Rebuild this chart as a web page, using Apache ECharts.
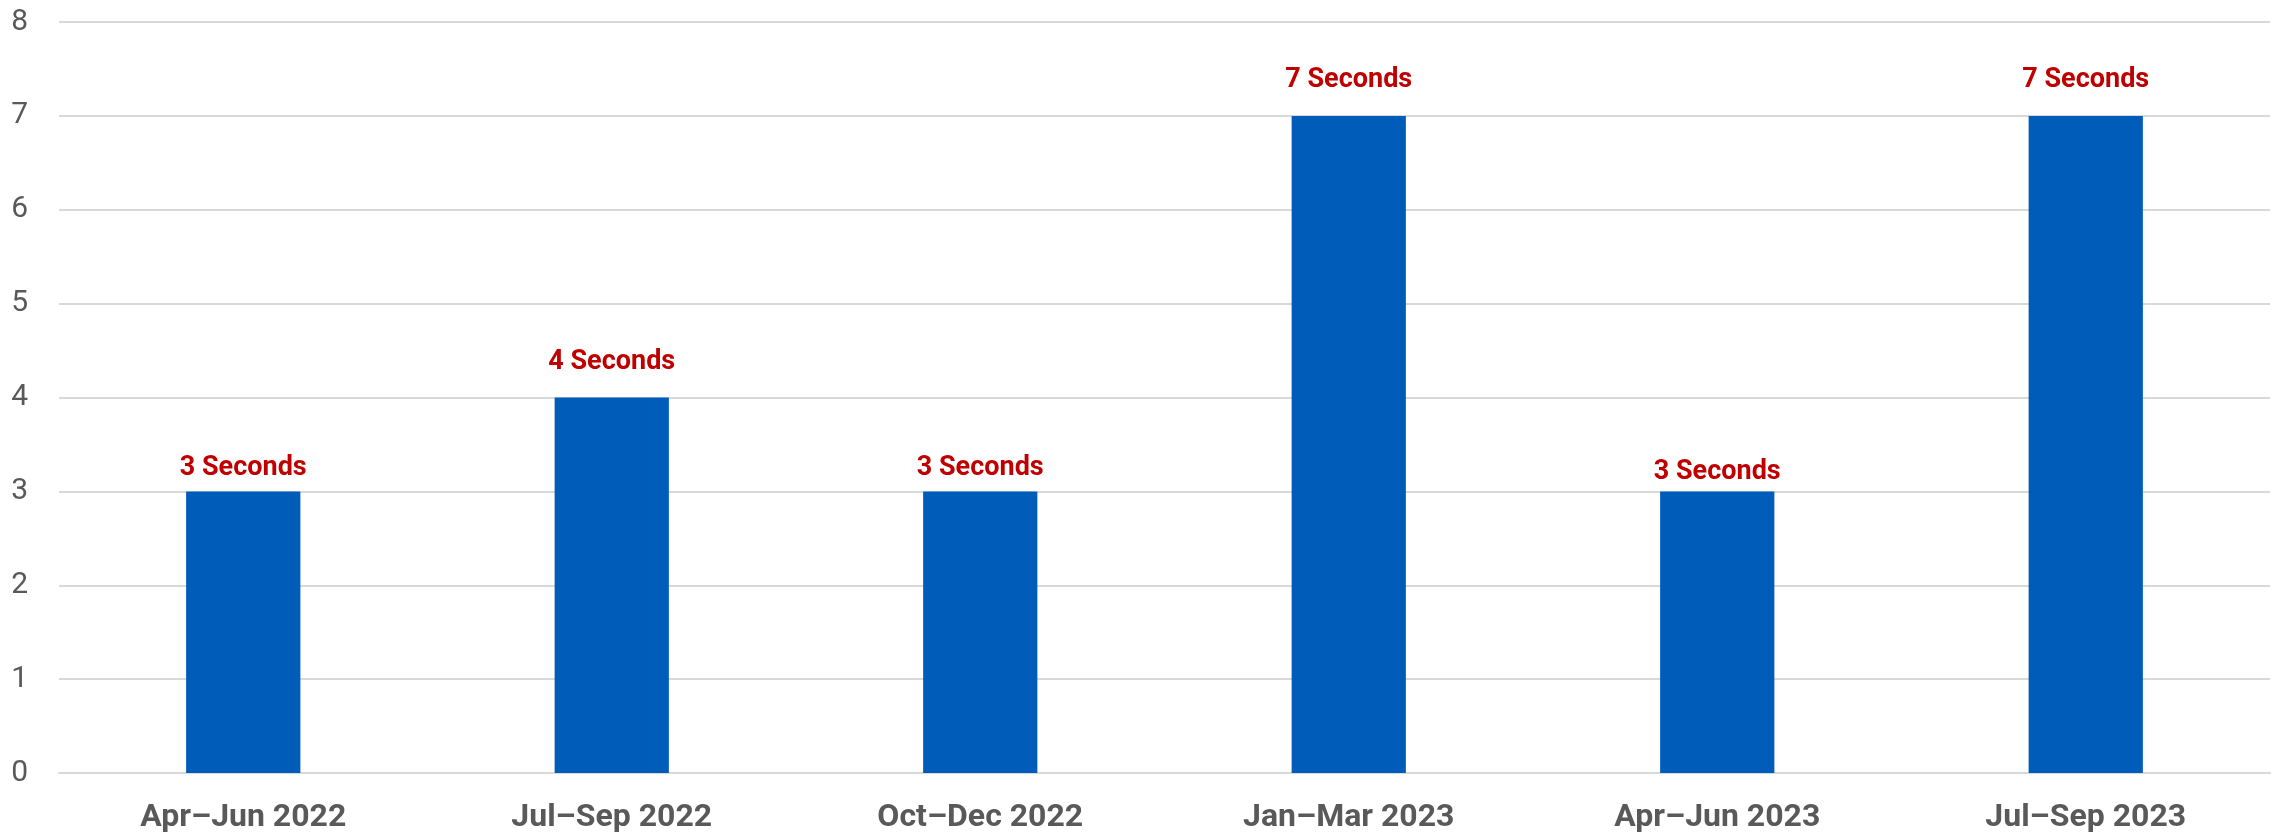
<!DOCTYPE html>
<html>
<head>
<meta charset="utf-8">
<script src="https://cdn.jsdelivr.net/npm/echarts@6/dist/echarts.min.js"></script>
<style>
html,body{margin:0;padding:0;background:#fff;}
#chart{width:2272px;height:834px;}
</style>
</head>
<body>
<div id="chart"></div>
<script>
const categories = ['Apr\u2013Jun 2022', 'Jul\u2013Sep 2022', 'Oct\u2013Dec 2022', 'Jan\u2013Mar 2023', 'Apr\u2013Jun 2023', 'Jul\u2013Sep 2023'];
const seconds = [3, 4, 3, 7, 3, 7];
const valueLabels = ['3 Seconds', '4 Seconds', '3 Seconds', '7 Seconds', '3 Seconds', '7 Seconds'];
const yTicks = [0, 1, 2, 3, 4, 5, 6, 7, 8];

// label gaps as placed in the original (style only)
const labelGap = {0: 10, 2: 10, 4: 6};

const chart = echarts.init(document.getElementById('chart'), null, {renderer: 'canvas'});
chart.setOption({
  animation: false,
  backgroundColor: '#ffffff',
  grid: {left: 59, right: 2, top: 22, bottom: 58, containLabel: false},
  xAxis: {
    type: 'category',
    data: categories,
    axisLine: {show: true, lineStyle: {color: '#d9d9d9', width: 2}},
    axisTick: {show: false},
    axisLabel: {
      color: '#595959',
      fontFamily: 'Roboto',
      fontWeight: 'bold',
      fontSize: 32,
      margin: 29
    }
  },
  yAxis: {
    type: 'value',
    min: yTicks[0],
    max: yTicks[yTicks.length - 1],
    interval: 1,
    axisLine: {show: false},
    axisTick: {show: false},
    splitLine: {lineStyle: {color: '#d9d9d9', width: 2}},
    axisLabel: {
      color: '#595959',
      fontFamily: 'Roboto',
      fontSize: 30,
      margin: 31
    }
  },
  series: [{
    type: 'bar',
    data: seconds.map((v, i) => labelGap[i] !== undefined ? {value: v, label: {distance: labelGap[i]}} : v),
    barWidth: '31%',
    itemStyle: {color: '#005cb9'},
    label: {
      show: true,
      position: 'top',
      distance: 22,
      color: '#c00000',
      fontFamily: 'Roboto',
      fontWeight: 'bold',
      fontSize: 27,
      formatter: p => valueLabels[p.dataIndex]
    }
  }]
});
</script>
</body>
</html>
